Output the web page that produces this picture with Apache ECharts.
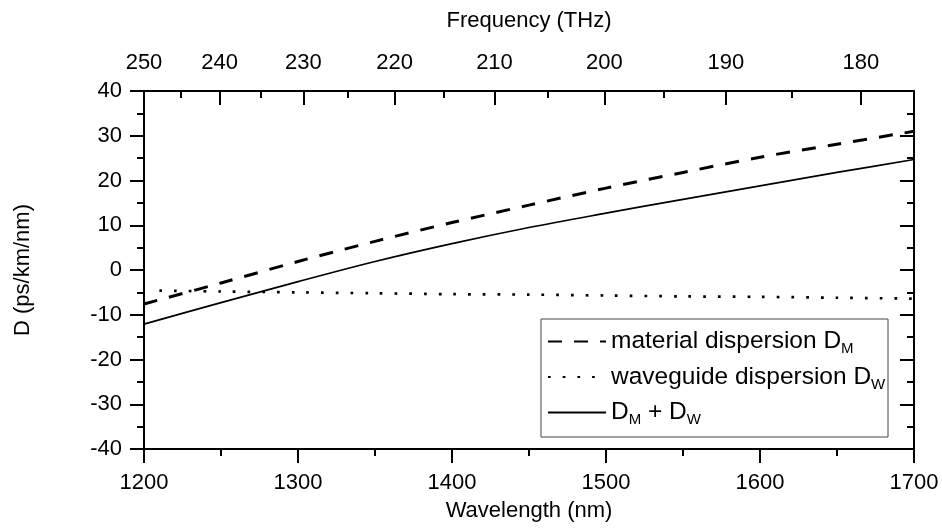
<!DOCTYPE html>
<html>
<head>
<meta charset="utf-8">
<script src="https://cdn.jsdelivr.net/npm/echarts@6/dist/echarts.min.js"></script>
<style>
  html, body { margin: 0; padding: 0; background: #fff; }
  #main { width: 942px; height: 531px; }
</style>
</head>
<body>
<div id="main"></div>
<script>
// wavelength grid (nm) and dispersion (ps/km/nm)
const wavelength = [1200, 1250, 1300, 1350, 1400, 1450, 1500, 1550, 1600, 1650, 1700]
const materialD = [-7.6, -2.9, 1.9, 6.4, 10.6, 14.5, 18.3, 21.8, 25.2, 28.1, 31.0]
const totalD = [-12.1, -7.3, -2.6, 1.9, 5.9, 9.5, 12.7, 15.8, 18.8, 21.8, 24.7]
const waveguideWL = [1210, 1250, 1300, 1350, 1400, 1450, 1500, 1550, 1600, 1650, 1700]
const waveguideD = [-4.6, -4.8, -5.0, -5.2, -5.4, -5.5, -5.7, -5.9, -6.0, -6.2, -6.4]

// top axis: frequency ticks (THz)
const freqMajor = [250, 240, 230, 220, 210, 200, 190, 180]
const freqMinor = [245, 235, 225, 215, 205, 195, 185]

const C = 299792.458 // nm*THz
const toWL = f => Math.max(1200, C / f)

const pairs = (xs, ys) => xs.map((x, i) => [x, ys[i]])

const FONT = 'Liberation Sans, Arial, sans-serif'
const black = '#000'

const myChart = echarts.init(document.getElementById('main'))

const option = {
  animation: false,
  backgroundColor: '#fff',
  color: [black, black, black],
  textStyle: { fontFamily: FONT },
  grid: { left: 144, top: 91, width: 770, height: 358 },
  xAxis: [
    {
      type: 'value', position: 'bottom', min: 1200, max: 1700, interval: 100,
      name: 'Wavelength (nm)', nameLocation: 'middle', nameGap: 51,
      nameTextStyle: { fontSize: 22, color: black, fontFamily: FONT },
      axisLine: { onZero: false, lineStyle: { color: black, width: 2 } },
      axisTick: { inside: false, length: 14, lineStyle: { color: black, width: 2 } },
      minorTick: { show: true, splitNumber: 2, length: 7, lineStyle: { color: black, width: 2 } },
      axisLabel: { fontSize: 22, color: black, margin: 23, fontFamily: FONT, formatter: v => String(v) },
      splitLine: { show: false }
    },
    {
      type: 'value', position: 'top', min: 1200, max: 1700,
      name: 'Frequency (THz)', nameLocation: 'middle', nameGap: 59,
      nameTextStyle: { fontSize: 22, color: black, fontFamily: FONT },
      axisLine: { onZero: false, lineStyle: { color: black, width: 2 } },
      axisTick: { inside: true, length: 14, customValues: freqMajor.map(toWL), lineStyle: { color: black, width: 2 } },
      axisLabel: {
        fontSize: 22, color: black, margin: 17, fontFamily: FONT,
        customValues: freqMajor.map(toWL),
        formatter: v => String(Math.round(C / v))
      },
      splitLine: { show: false }
    },
    {
      type: 'value', position: 'top', min: 1200, max: 1700,
      axisLine: { show: false, onZero: false },
      axisTick: { inside: true, length: 7, customValues: freqMinor.map(toWL), lineStyle: { color: black, width: 2 } },
      axisLabel: { show: false },
      splitLine: { show: false }
    }
  ],
  yAxis: [
    {
      type: 'value', position: 'left', min: -40, max: 40, interval: 10,
      name: 'D (ps/km/nm)', nameLocation: 'middle', nameGap: 110,
      nameTextStyle: { fontSize: 22, color: black, fontFamily: FONT },
      axisLine: { show: true, onZero: false, lineStyle: { color: black, width: 2 } },
      axisTick: { inside: false, length: 14, lineStyle: { color: black, width: 2 } },
      minorTick: { show: true, splitNumber: 2, length: 7, lineStyle: { color: black, width: 2 } },
      axisLabel: { fontSize: 22, color: black, margin: 22, fontFamily: FONT },
      splitLine: { show: false }
    },
    {
      type: 'value', position: 'right', min: -40, max: 40, interval: 10,
      axisLine: { show: true, onZero: false, lineStyle: { color: black, width: 2 } },
      axisTick: { inside: true, length: 14, lineStyle: { color: black, width: 2 } },
      minorTick: { show: true, splitNumber: 2, length: 7, lineStyle: { color: black, width: 2 } },
      axisLabel: { show: false },
      splitLine: { show: false }
    }
  ],
  legend: {
    orient: 'vertical',
    left: 547, top: 329,
    itemWidth: 58, itemHeight: 14, itemGap: 8,
    padding: 0,
    itemStyle: { opacity: 0 },
    textStyle: {
      fontSize: 24.5, color: black, fontFamily: FONT,
      rich: {
        sub: { fontSize: 15, fontFamily: FONT, color: black, padding: [15, 0, 0, 0] }
      }
    },
    formatter: name => ({
      material: 'material dispersion D{sub|M}',
      waveguide: 'waveguide dispersion D{sub|W}',
      total: 'D{sub|M} + D{sub|W}'
    })[name],
    data: ['material', 'waveguide', 'total']
  },
  graphic: [
    {
      type: 'rect', z: 1,
      shape: { x: 541, y: 319, width: 347, height: 118 },
      style: { fill: 'none', stroke: '#444', lineWidth: 1 }
    }
  ],
  series: [
    {
      name: 'material', type: 'line', smooth: 0.3, showSymbol: false, symbol: 'none',
      data: pairs(wavelength, materialD),
      lineStyle: { color: black, width: 3, type: [14, 12] }
    },
    {
      name: 'waveguide', type: 'line', smooth: 0.3, showSymbol: false, symbol: 'none',
      data: pairs(waveguideWL, waveguideD),
      lineStyle: { color: black, width: 2.7, type: [2.7, 12], cap: 'butt' }
    },
    {
      name: 'total', type: 'line', smooth: 0.3, showSymbol: false, symbol: 'none',
      data: pairs(wavelength, totalD),
      lineStyle: { color: black, width: 1.7 }
    }
  ]
}

myChart.setOption(option)
</script>
</body>
</html>
